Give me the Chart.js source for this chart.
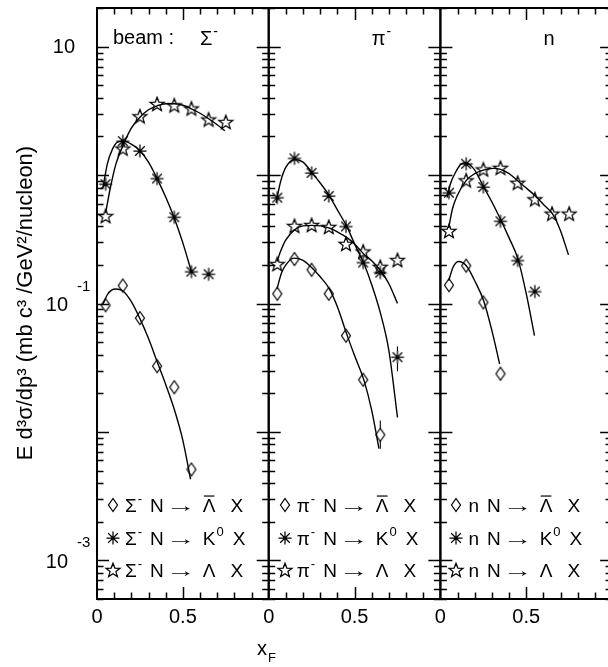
<!DOCTYPE html>
<html>
<head>
<meta charset="utf-8">
<script src="https://cdn.jsdelivr.net/npm/chart.js@4.4.1/dist/chart.umd.min.js"></script>
<style>
  html, body { margin: 0; padding: 0; background: #fff; overflow: hidden; }
  #wrap { position: relative; width: 608px; height: 667px; overflow: hidden; }
  #wrap canvas { position: absolute; left: 0; top: 0; }
</style>
</head>
<body>
<div id="wrap">
  <canvas id="c0" width="640" height="667"></canvas>
  <canvas id="c1" width="640" height="667"></canvas>
  <canvas id="c2" width="640" height="667"></canvas>
</div>
<script>
// x_F bin centres shared by all measurements
const xBins = [0.05, 0.15, 0.25, 0.35, 0.45, 0.55, 0.65, 0.75];

// Sigma- beam
const sigLambdaBar = [0.097, 0.138, 0.077, 0.0325, 0.0223, 0.0051];
const sigK0 = [0.85, 1.84, 1.54, 0.94, 0.47, 0.177, 0.169];
const sigLambda = [0.48, 1.61, 2.87, 3.58, 3.49, 3.30, 2.71, 2.59];

// pi- beam
const piLambdaBar = [0.119, 0.222, 0.183, 0.119, 0.0562, 0.0255, 0.0095];
const piK0 = [0.667, 1.35, 1.04, 0.687, 0.398, 0.2085, 0.174, 0.0382];
const piLambda = [0.203, 0.402, 0.409, 0.395, 0.291, 0.254, 0.193, 0.218];

// neutron beam
const nLambdaBar = [0.139, 0.197, 0.102, 0.0284];
const nK0 = [0.729, 1.224, 0.807, 0.437, 0.216, 0.124];
const nLambda = [0.367, 0.910, 1.107, 1.139, 0.871, 0.648, 0.501, 0.501];

// error bars [x, low, high]
const piK0Err = [[0.75, 0.0297, 0.0462]];
const piLambdaBarErr = [[0.65, 0.0074, 0.0123]];

// fitted curves [x, value]
const sigLambdaBarFit = [[0.035, 0.099], [0.06, 0.117], [0.085, 0.127], [0.11, 0.1297], [0.15, 0.1257], [0.2, 0.1033],
  [0.25, 0.0762], [0.3, 0.0533], [0.35, 0.0353], [0.4, 0.0234], [0.45, 0.0150], [0.5, 0.0086], [0.545, 0.00428]];
const sigK0Fit = [[0.035, 0.797], [0.06, 1.217], [0.09, 1.592], [0.12, 1.804], [0.155, 1.837], [0.2, 1.741], [0.25, 1.549],
  [0.3, 1.262], [0.35, 0.939], [0.4, 0.675], [0.45, 0.4636], [0.5, 0.2965], [0.55, 0.1765]];
const sigLambdaFit = [[0.05, 0.507], [0.08, 0.822], [0.11, 1.217], [0.15, 1.680], [0.2, 2.317], [0.25, 2.820], [0.3, 3.225],
  [0.35, 3.464], [0.4, 3.591], [0.45, 3.591], [0.5, 3.495], [0.55, 3.283], [0.6, 3.030], [0.65, 2.747], [0.7, 2.467], [0.745, 2.216]];

const piLambdaBarFit = [[0.048, 0.1296], [0.075, 0.1734], [0.1, 0.2001], [0.146, 0.2256], [0.2, 0.2169], [0.25, 0.1907],
  [0.3, 0.1614], [0.354, 0.1296], [0.4, 0.0944], [0.454, 0.0580], [0.5, 0.0393], [0.555, 0.0252], [0.6, 0.01471], [0.642, 0.00742]];
const piK0Fit = [[0.043, 0.609], [0.07, 0.898], [0.1, 1.154], [0.155, 1.324], [0.2, 1.262], [0.25, 1.055], [0.3, 0.867],
  [0.354, 0.687], [0.4, 0.535], [0.456, 0.395], [0.5, 0.2912], [0.555, 0.2037], [0.6, 0.140], [0.65, 0.0848], [0.7, 0.0430], [0.75, 0.0130]];
const piLambdaFit = [[0.048, 0.2123], [0.075, 0.2664], [0.1, 0.3129], [0.155, 0.3788], [0.2, 0.4018], [0.25, 0.4055], [0.3, 0.4018],
  [0.355, 0.3857], [0.4, 0.3609], [0.456, 0.3261], [0.5, 0.2912], [0.555, 0.2423], [0.6, 0.2149], [0.652, 0.1798], [0.7, 0.1424], [0.75, 0.1002]];

const nLambdaBarFit = [[0.048, 0.1503], [0.075, 0.1931], [0.106, 0.2123], [0.151, 0.1966], [0.2, 0.1503], [0.252, 0.1051],
  [0.3, 0.0615], [0.345, 0.0339]];
const nK0Fit = [[0.039, 0.6665], [0.06, 0.8669], [0.087, 1.042], [0.115, 1.196], [0.14, 1.246], [0.17, 1.206], [0.2, 1.094],
  [0.249, 0.8214], [0.3, 0.6172], [0.35, 0.4529], [0.4, 0.3243], [0.452, 0.2215], [0.5, 0.1192], [0.548, 0.0562]];
const nLambdaFit = [[0.048, 0.3857], [0.07, 0.5445], [0.097, 0.687], [0.151, 0.9096], [0.2, 1.027], [0.249, 1.094], [0.31, 1.127],
  [0.35, 1.107], [0.4, 1.027], [0.452, 0.898], [0.5, 0.7924], [0.553, 0.687], [0.6, 0.590], [0.655, 0.4954], [0.7, 0.3674], [0.746, 0.2392]];

// axis labels
const yLabelValues = [10, 0.1, 0.001];
const yLabelExps = ['', '-1', '-3'];
const xLabelValues = [0, 0.5];
const xLabelTexts = ['0', '0.5'];

const Y_MIN = 5e-4, Y_MAX = 20;
const CANVAS_W = 640, CANVAS_H = 667;
const PANEL_LEFT = 97, PANEL_W = 171.7, PANEL_TOP = 6, PANEL_BOTTOM = 599;
const FONT = '"Liberation Sans", Arial, Helvetica, sans-serif';

function makeMarker(kind) {
  const c = document.createElement('canvas');
  c.width = 18; c.height = 18;
  const g = c.getContext('2d');
  const cx = 9, cy = 9;
  g.strokeStyle = '#000';
  g.lineWidth = 1.25;
  g.beginPath();
  if (kind === 'diamond') {
    g.moveTo(cx, cy - 6.5); g.lineTo(cx + 4.5, cy); g.lineTo(cx, cy + 6.5); g.lineTo(cx - 4.5, cy); g.closePath();
  } else if (kind === 'star') {
    for (let i = 0; i < 10; i++) {
      const r = i % 2 ? 3.1 : 7.4;
      const a = -Math.PI / 2 + i * Math.PI / 5;
      const px = cx + r * Math.cos(a), py = cy + 0.6 + r * Math.sin(a);
      if (i === 0) g.moveTo(px, py); else g.lineTo(px, py);
    }
    g.closePath();
  } else {
    g.moveTo(cx - 6.5, cy); g.lineTo(cx + 6.5, cy);
    g.moveTo(cx, cy - 6.5); g.lineTo(cx, cy + 6.5);
    g.moveTo(cx - 4.8, cy - 4.8); g.lineTo(cx + 4.8, cy + 4.8);
    g.moveTo(cx - 4.8, cy + 4.8); g.lineTo(cx + 4.8, cy - 4.8);
  }
  g.stroke();
  return c;
}
const markers = { diamond: makeMarker('diamond'), asterisk: makeMarker('asterisk'), star: makeMarker('star') };

// draws text pieces left to right; {t, sup, bar, width} or {gap}
function drawParts(ctx, x, y, parts, size) {
  ctx.textAlign = 'left';
  ctx.textBaseline = 'alphabetic';
  for (const p of parts) {
    if (p.gap) {
      x += p.gap;
    } else if (p.sup) {
      ctx.font = Math.round(size * 0.68) + 'px ' + FONT;
      ctx.fillText(p.t, x + 1, y - size * 0.45);
      x += ctx.measureText(p.t).width + 1;
    } else if (p.width) {
      // stretched glyph (long arrow)
      ctx.font = size + 'px ' + FONT;
      const w = ctx.measureText(p.t).width;
      ctx.save();
      ctx.translate(x, y);
      ctx.scale(p.width / w, 1);
      ctx.fillText(p.t, 0, 0);
      ctx.restore();
      x += p.width;
    } else {
      ctx.font = size + 'px ' + FONT;
      ctx.fillText(p.t, x, y);
      const w = ctx.measureText(p.t).width;
      if (p.bar) {
        ctx.beginPath();
        ctx.lineWidth = 1.2;
        ctx.moveTo(x + 1, y - size * 0.84);
        ctx.lineTo(x + w - 1, y - size * 0.84);
        ctx.stroke();
      }
      x += w;
    }
  }
  return x;
}

const panels = [
  {
    beamLabel: 'beam :', beam: [{ t: 'Σ' }, { t: '-', sup: true }],
    legendPrefix: [{ t: 'Σ' }, { t: '-', sup: true }],
    series: [
      { values: sigLambdaBar, marker: 'diamond', fit: sigLambdaBarFit },
      { values: sigK0, marker: 'asterisk', fit: sigK0Fit },
      { values: sigLambda, marker: 'star', fit: sigLambdaFit }
    ]
  },
  {
    beamLabel: '', beam: [{ t: 'π' }, { t: '-', sup: true }],
    legendPrefix: [{ t: 'π' }, { t: '-', sup: true }],
    series: [
      { values: piLambdaBar, marker: 'diamond', fit: piLambdaBarFit, err: piLambdaBarErr },
      { values: piK0, marker: 'asterisk', fit: piK0Fit, err: piK0Err },
      { values: piLambda, marker: 'star', fit: piLambdaFit }
    ]
  },
  {
    beamLabel: '', beam: [{ t: 'n' }],
    legendPrefix: [{ t: 'n' }],
    series: [
      { values: nLambdaBar, marker: 'diamond', fit: nLambdaBarFit },
      { values: nK0, marker: 'asterisk', fit: nK0Fit },
      { values: nLambda, marker: 'star', fit: nLambdaFit }
    ]
  }
];

// final-state labels, with the space kept before the trailing X
const products = [
  [{ t: 'Λ', bar: true }, { gap: 15 }],
  [{ t: 'K' }, { t: '0', sup: true }, { gap: 9 }],
  [{ t: 'Λ' }, { gap: 15 }]
];
const legendRowsY = [505, 538, 570];

function decor(idx, p) {
  return {
    id: 'decor' + idx,
    afterDatasetsDraw(chart) {
      const ctx = chart.ctx;
      const xs = chart.scales.x, ys = chart.scales.y;
      const a = chart.chartArea;
      ctx.save();
      ctx.strokeStyle = '#000';
      ctx.fillStyle = '#000';

      // error bars
      ctx.lineWidth = 1.1;
      p.series.forEach(s => (s.err || []).forEach(([x, lo, hi]) => {
        const px = xs.getPixelForValue(x);
        const pv = ys.getPixelForValue(s.values[xBins.indexOf(x)]);
        ctx.beginPath();
        ctx.moveTo(px, ys.getPixelForValue(hi)); ctx.lineTo(px, pv - 6);
        ctx.moveTo(px, pv + 6); ctx.lineTo(px, ys.getPixelForValue(lo));
        ctx.stroke();
      }));

      // frame
      ctx.lineWidth = 2;
      ctx.strokeRect(a.left, a.top, a.right - a.left, a.bottom - a.top);

      // y ticks on both sides
      ctx.lineWidth = 1.5;
      ctx.beginPath();
      for (let e = -4; e <= 1; e++) {
        for (let m = 1; m <= 9; m++) {
          const v = m * Math.pow(10, e);
          if (v < Y_MIN || v > Y_MAX) continue;
          const py = Math.round(ys.getPixelForValue(v)) + 0.5;
          const len = m === 1 ? 12 : 6.5;
          ctx.moveTo(a.left, py); ctx.lineTo(a.left + len, py);
          ctx.moveTo(a.right - len, py); ctx.lineTo(a.right, py);
        }
      }
      // x ticks top and bottom
      for (let k = 1; k <= 9; k++) {
        const px = Math.round(xs.getPixelForValue(k / 10)) + 0.5;
        const len = k === 5 ? 12 : 6.5;
        ctx.moveTo(px, a.top); ctx.lineTo(px, a.top + len);
        ctx.moveTo(px, a.bottom - len); ctx.lineTo(px, a.bottom);
      }
      ctx.stroke();

      // x tick labels
      ctx.font = '20px ' + FONT;
      ctx.textAlign = 'center';
      ctx.textBaseline = 'middle';
      xLabelValues.forEach((v, i) => ctx.fillText(xLabelTexts[i], xs.getPixelForValue(v), 617));

      // beam title
      if (p.beamLabel) {
        ctx.font = '20px ' + FONT;
        ctx.textAlign = 'left';
        ctx.textBaseline = 'alphabetic';
        ctx.fillText(p.beamLabel, a.left + 16, 44);
      }
      drawParts(ctx, a.left + 103, 45, p.beam, 20);

      // legend rows
      p.series.forEach((s, i) => {
        const y = legendRowsY[i];
        const img = markers[s.marker];
        ctx.drawImage(img, Math.round(a.left + 16 - img.width / 2), Math.round(y - img.height / 2));
        const parts = p.legendPrefix.concat([{ gap: 8 }, { t: 'N' }, { gap: 2 }, { t: '→', width: 30 }, { gap: 7 }],
          products[i], [{ t: 'X' }]);
        drawParts(ctx, a.left + 28, y + 7, parts, 19);
      });

      if (idx === 0) {
        // y tick labels
        ctx.textBaseline = 'middle';
        yLabelValues.forEach((v, i) => {
          const py = ys.getPixelForValue(v);
          ctx.font = '20px ' + FONT;
          if (!yLabelExps[i]) {
            ctx.textAlign = 'right';
            ctx.fillText('10', 75, py + 1);
          } else {
            ctx.textAlign = 'right';
            ctx.fillText('10', 68, py + 2);
            ctx.font = '15px ' + FONT;
            ctx.textAlign = 'left';
            ctx.fillText(yLabelExps[i], 77, py - 17);
          }
        });
        // y axis title
        ctx.save();
        ctx.translate(32, 303);
        ctx.rotate(-Math.PI / 2);
        ctx.font = '22px ' + FONT;
        ctx.textAlign = 'center';
        ctx.textBaseline = 'alphabetic';
        ctx.fillText('E d³σ/dp³ (mb c³ /GeV²/nucleon)', 0, 0);
        ctx.restore();
        // x axis title
        ctx.textAlign = 'left';
        ctx.textBaseline = 'alphabetic';
        ctx.font = '20px ' + FONT;
        ctx.fillText('x', 257, 655);
        ctx.font = '13px ' + FONT;
        ctx.fillText('F', 268, 662);
      }
      ctx.restore();
    }
  };
}

function buildPanel(idx, p) {
  const left = PANEL_LEFT + idx * PANEL_W;
  const right = left + PANEL_W;
  const datasets = [];
  p.series.forEach(s => {
    datasets.push({
      data: s.fit.map(([x, y]) => ({ x, y })),
      showLine: true, pointRadius: 0, borderColor: '#000', borderWidth: 1.4,
      cubicInterpolationMode: 'monotone', fill: false
    });
  });
  p.series.forEach(s => {
    datasets.push({
      data: s.values.map((v, i) => ({ x: xBins[i], y: v })),
      showLine: false, pointStyle: markers[s.marker], pointRadius: 7,
      borderColor: '#000', backgroundColor: 'transparent'
    });
  });
  new Chart(document.getElementById('c' + idx), {
    type: 'scatter',
    data: { datasets },
    options: {
      responsive: false,
      animation: false,
      events: [],
      layout: { padding: { left: left, right: CANVAS_W - right, top: PANEL_TOP, bottom: CANVAS_H - PANEL_BOTTOM } },
      plugins: { legend: { display: false }, tooltip: { enabled: false } },
      scales: {
        x: { type: 'linear', min: 0, max: 1, display: false },
        y: { type: 'logarithmic', min: Y_MIN, max: Y_MAX, display: false }
      }
    },
    plugins: [decor(idx, p)]
  });
}

panels.forEach((p, i) => buildPanel(i, p));
</script>
</body>
</html>
